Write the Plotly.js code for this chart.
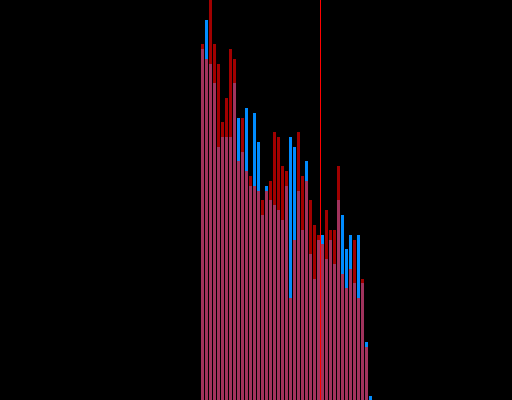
<!DOCTYPE html>
<html>
<head>
<meta charset="utf-8">
<script src="https://cdn.plot.ly/plotly-3.0.1.min.js"></script>
<style>html,body{margin:0;padding:0;background:#000;}#chart{width:512px;height:400px;}</style>
</head>
<body>
<div id="chart"></div>
<script>
const bins = [0,1,2,3,4,5,6,7,8,9,10,11,12,13,14,15,16,17,18,19,20,21,22,23,24,25,26,27,28,29,30,31,32,33,34,35,36,37,38,39,40,41,42];
const blueCounts = [351,380,336,317,253,263,263,263,317,282,248,292,214,287,258,185,214,200,195,190,180,214,263,253,209,170,239,146,121,160,165,141,160,136,200,185,151,165,117,165,117,58,4];
const redCounts = [356,341,410,356,336,278,302,351,341,239,282,229,224,214,209,200,209,219,268,263,234,229,102,160,268,224,219,200,175,165,156,190,170,170,234,126,112,131,160,102,121,53,0];
const markerX = 29.5;

const traces = [
  {type:'bar', x:bins, y:blueCounts, marker:{color:'rgb(0,140,255)', line:{width:0}}, hoverinfo:'none'},
  {type:'bar', x:bins, y:redCounts, marker:{color:'rgb(255,0,0)', line:{width:0}}, opacity:0.63, hoverinfo:'none'}
];
const layout = {
  width:512, height:400,
  margin:{l:0,r:0,t:0,b:0,pad:0},
  paper_bgcolor:'#000', plot_bgcolor:'#000',
  barmode:'overlay', bargap:0.25,
  showlegend:false,
  xaxis:{range:[-50.625,77.375], visible:false, showgrid:false, zeroline:false},
  yaxis:{range:[0,400], visible:false, showgrid:false, zeroline:false},
  shapes:[{type:'line', xref:'x', yref:'paper', x0:markerX, x1:markerX, y0:0, y1:1, line:{color:'rgb(255,0,0)', width:1}}]
};
Plotly.newPlot('chart', traces, layout, {staticPlot:true, displayModeBar:false});
</script>
</body>
</html>
